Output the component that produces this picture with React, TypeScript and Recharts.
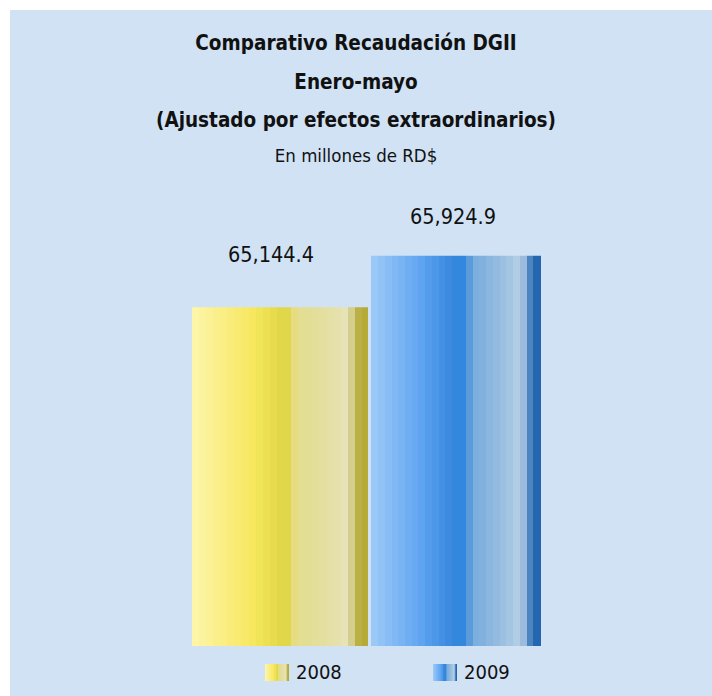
import React from 'react';
import { BarChart, Bar, XAxis, YAxis, LabelList } from 'recharts';

const categories = ['Enero-mayo'];
const seriesNames = ['2008', '2009'];
const values2008 = [65144.4];
const values2009 = [65924.9];
const yDomain = [60000, 67000];
const titleLines = ['Comparativo Recaudación DGII', 'Enero-mayo', '(Ajustado por efectos extraordinarios)'];
const subtitle = 'En millones de RD$';

const data = categories.map((c, i) => ({ name: c, y2008: values2008[i], y2009: values2009[i] }));

const BG = '#D0E2F3';
const FONT = '"DejaVu Sans Condensed", "DejaVu Sans", sans-serif';

// banded gradient styles [offsetEnd, color]
const yellowBands: [number, string][] = [
  [0.04, '#FDF6A9'], [0.08, '#FCF39E'], [0.119, '#FCF195'], [0.159, '#FBEF8C'], [0.199, '#FBEE84'],
  [0.239, '#FAEC7B'], [0.278, '#F9EB72'], [0.324, '#F9E96A'], [0.364, '#F7E75F'], [0.403, '#F0E458'],
  [0.443, '#EEE053'], [0.485, '#E8DB4C'], [0.5625, '#E1D74B'], [0.604, '#E6DD82'], [0.644, '#E4DE92'],
  [0.684, '#E3DE95'], [0.723, '#E3DE99'], [0.765, '#E4DF9F'], [0.805, '#E5E0A6'], [0.845, '#E6E1AC'],
  [0.886, '#E8E3B6'], [0.926, '#D4CF8C'], [0.966, '#BBB044'], [1, '#B5AB36'],
];
const blueBands: [number, string][] = [
  [0.041, '#9BC9F7'], [0.082, '#92C3F6'], [0.122, '#89BDF5'], [0.161, '#80B8F4'], [0.2, '#78B3F3'],
  [0.239, '#70AEF2'], [0.278, '#68A9F1'], [0.32, '#5FA4F0'], [0.359, '#559DEC'], [0.398, '#4C97E8'],
  [0.437, '#4490E4'], [0.476, '#3D8BE0'], [0.557, '#3388DD'], [0.598, '#5B9BDB'], [0.637, '#7CAEDE'],
  [0.678, '#83B1DE'], [0.718, '#8AB6DF'], [0.757, '#93BBE0'], [0.796, '#9BC0E1'], [0.835, '#A5C6E3'],
  [0.876, '#B1CDE5'], [0.918, '#9DBCDD'], [0.953, '#4A85C0'], [1, '#2466B0'],
];

const bandStops = (bands: [number, string][]) => {
  const out: React.ReactElement[] = [];
  let prev = 0;
  bands.forEach(([end, color], i) => {
    out.push(<stop key={`a${i}`} offset={prev} stopColor={color} />);
    out.push(<stop key={`b${i}`} offset={end} stopColor={color} />);
    prev = end;
  });
  return out;
};

const cssBands = (bands: [number, string][]) => {
  let prev = 0;
  const parts = bands.map(([end, color]) => {
    const s = `${color} ${(prev * 100).toFixed(2)}% ${(end * 100).toFixed(2)}%`;
    prev = end;
    return s;
  });
  return `linear-gradient(to right, ${parts.join(', ')})`;
};

const fmt = (v: number) =>
  Number(v).toLocaleString('en-US', { minimumFractionDigits: 1, maximumFractionDigits: 1 });

const makeLabel = (dx: number, dy: number) => (props: any) => {
  const { x, y, width, value } = props;
  return (
    <text
      x={Number(x) + Number(width) / 2 + dx}
      y={Number(y) - dy}
      textAnchor="middle"
      dominantBaseline="central"
      fontFamily={FONT}
      fontSize={21.5}
      fill="#111"
    >
      {fmt(value)}
    </text>
  );
};

export default function App() {
  return (
    <div style={{ position: 'absolute', left: 10, top: 10, width: 702, height: 686, background: BG, overflow: 'hidden' }}>
      <div style={{ position: 'absolute', left: 0, top: 0, width: 692, fontFamily: FONT, color: '#111', textAlign: 'center' }}>
        {titleLines.map((t, i) => (
          <div key={i} style={{ position: 'absolute', left: 0, width: 692, top: [21, 60, 98][i], fontWeight: 'bold', fontSize: 20.5, lineHeight: '24px' }}>
            {t}
          </div>
        ))}
        <div style={{ position: 'absolute', left: 0, width: 692, top: 135, fontSize: 18.5, lineHeight: '22px' }}>{subtitle}</div>
      </div>
      <div style={{ position: 'absolute', left: 0, top: 0 }}>
        <BarChart
          width={702}
          height={686}
          data={data}
          margin={{ top: 175, bottom: 50, left: 162, right: 151 }}
          barCategoryGap={0}
          barGap={3}
        >
          <defs>
            <linearGradient id="g2008" x1="0" y1="0" x2="1" y2="0">{bandStops(yellowBands)}</linearGradient>
            <linearGradient id="g2009" x1="0" y1="0" x2="1" y2="0">{bandStops(blueBands)}</linearGradient>
          </defs>
          <XAxis dataKey="name" hide />
          <YAxis hide domain={yDomain} allowDataOverflow />
          <Bar dataKey="y2008" name={seriesNames[0]} fill="url(#g2008)" barSize={176} isAnimationActive={false}>
            <LabelList dataKey="y2008" content={makeLabel(-9, 53)} />
          </Bar>
          <Bar dataKey="y2009" name={seriesNames[1]} fill="url(#g2009)" barSize={170} isAnimationActive={false}>
            <LabelList dataKey="y2009" content={makeLabel(-3, 39)} />
          </Bar>
        </BarChart>
      </div>
      {[
        { name: seriesNames[0], bands: yellowBands, left: 255 },
        { name: seriesNames[1], bands: blueBands, left: 423 },
      ].map((l) => (
        <div key={l.name} style={{ position: 'absolute', left: l.left, top: 652, height: 20, display: 'flex', alignItems: 'center', fontFamily: FONT, fontSize: 20, color: '#111' }}>
          <div style={{ width: 24, height: 17, background: cssBands(l.bands), marginRight: 7 }} />
          <span>{l.name}</span>
        </div>
      ))}
    </div>
  );
}
